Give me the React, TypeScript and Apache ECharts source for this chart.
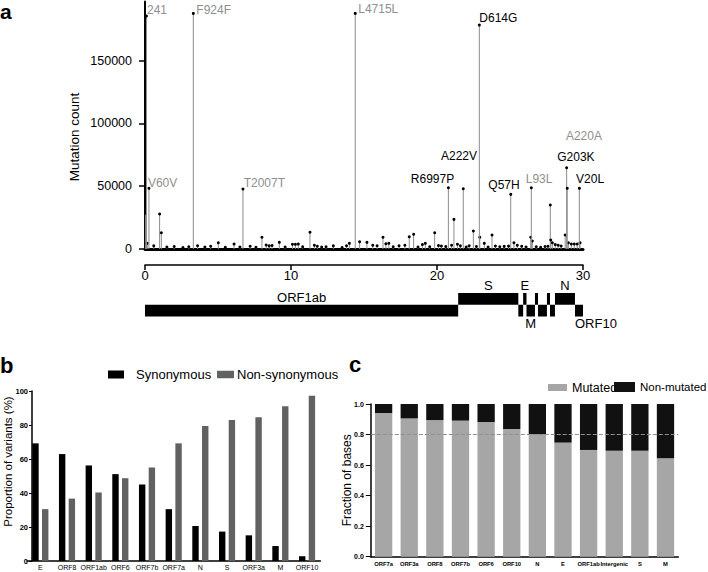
import React, { useEffect, useRef } from 'react';
import * as echarts from 'echarts';

const FONT = '"Liberation Sans", Arial, Helvetica, sans-serif';

// ---------- Panel a: mutation counts along the genome (kb) ----------
const peakNames = ['241', 'V60V', 'F924F', 'T2007T', 'L4715L', 'R6997P', 'A222V', 'D614G', 'Q57H', 'L93L', 'G203K', 'A220A', 'V20L'];
const peakPositions = [0.1, 0.27, 3.31, 6.71, 14.4, 20.78, 21.8, 22.9, 25.05, 26.46, 28.88, 28.92, 29.75];
const peakCounts = [185500, 48300, 187600, 47800, 187600, 48800, 48000, 178300, 43500, 48800, 64700, 48300, 48300];
const peakSynonymous = [true, true, true, true, true, false, false, false, false, true, false, true, false];

const minorPositions = [
  0.03, 0.15, 0.6, 1.0, 1.12, 1.5, 2.0, 2.6, 3.0, 3.6, 4.1, 4.5, 5.02, 5.5, 6.1, 6.5, 7.2, 7.6, 8.01, 8.3,
  8.5, 8.7, 9.2, 9.6, 10.1, 10.3, 10.5, 10.8, 11.3, 11.6, 11.8, 12.1, 12.4, 12.9, 13.5, 13.8, 14.0, 14.7, 15.2, 15.6,
  15.9, 16.3, 16.5, 16.7, 17.0, 17.4, 17.8, 18.1, 18.4, 18.7, 19.0, 19.2, 19.5, 19.84, 20.1, 20.3, 20.6, 21.0, 21.16, 21.4,
  21.6, 22.0, 22.2, 22.49, 22.7, 22.93, 23.24, 23.5, 23.77, 24.0, 24.3, 24.6, 24.9, 25.27, 25.5, 25.8, 26.1, 26.42, 26.53, 26.8,
  27.1, 27.4, 27.6, 27.76, 27.79, 27.9, 28.1, 28.3, 28.5, 28.78, 29.0, 29.2, 29.4, 29.6, 29.8,
];
const minorCounts = [
  28500, 4500, 2500, 27900, 13000, 1500, 2000, 1200, 1800, 2600, 1500, 2200, 5000, 1300, 4000, 1500, 2200, 1400, 9300, 3200,
  2500, 2800, 5300, 1600, 3800, 3700, 3900, 1700, 13300, 3000, 2200, 1500, 1800, 2500, 1200, 2600, 4500, 5800, 5300, 3000,
  2600, 9300, 4200, 4500, 1800, 2600, 3000, 9800, 11700, 1600, 3500, 4500, 1800, 13000, 2700, 2400, 1900, 3000, 23600, 3800,
  2500, 1500, 2600, 14300, 2000, 9300, 4500, 1500, 11100, 2400, 1800, 2100, 2300, 5000, 3000, 2200, 1600, 9300, 6400, 1800,
  1300, 2000, 2200, 35000, 7200, 5000, 3500, 3000, 2400, 11100, 5000, 4000, 4000, 4000, 5000,
];

const axisTicksKb = [0, 10, 20, 30];
const countTicks = [0, 50000, 100000, 150000];

// Gene map
const geneNames = ['ORF1ab', 'S', 'ORF3a', 'E', 'M', 'ORF6', 'ORF7a', 'ORF7b', 'ORF8', 'N', 'ORF10'];
const geneStarts = [0, 21.45, 25.57, 25.9, 26.13, 26.71, 26.92, 27.53, 27.74, 28.08, 29.45];
const geneEnds = [21.45, 25.57, 25.9, 26.13, 26.71, 26.92, 27.53, 27.74, 28.08, 29.45, 30];
const geneRows = [0, 1, 0, 1, 0, 1, 0, 1, 0, 1, 0];
const geneLabelSides = ['top', 'top', '', 'top', 'bottom', '', '', '', '', 'top', 'bottomLeft'];

// ---------- Panel b ----------
const variantGenes = ['E', 'ORF8', 'ORF1ab', 'ORF6', 'ORF7b', 'ORF7a', 'N', 'S', 'ORF3a', 'M', 'ORF10'];
const synonymousPct = [69.2, 62.9, 56.2, 51.1, 45, 30.5, 20.6, 17.3, 15.1, 8.8, 2.8];
const nonSynonymousPct = [30.5, 36.7, 40.3, 48.7, 55, 69.2, 79.4, 82.9, 84.5, 91, 97.2];

// ---------- Panel c ----------
const baseGenes = ['ORF7a', 'ORF3a', 'ORF8', 'ORF7b', 'ORF6', 'ORF10', 'N', 'E', 'ORF1ab', 'Intergenic', 'S', 'M'];
const mutatedFrac = [0.941, 0.906, 0.895, 0.891, 0.882, 0.836, 0.803, 0.747, 0.699, 0.694, 0.694, 0.644];
const nonMutatedFrac = [0.059, 0.094, 0.105, 0.109, 0.118, 0.164, 0.197, 0.253, 0.301, 0.306, 0.306, 0.356];
const thresholdFrac = 0.8;

// label placement (pixel offsets from the point, left-aligned text)
const labelOffsets: Record<string, [number, number]> = {
  '241': [0.5, -6], V60V: [-1, -5], F924F: [3, -3.5], T2007T: [0.7, -5.5], L4715L: [3, -4],
  R6997P: [-37.6, -9.2], A222V: [-22.3, -32.4], D614G: [0, -6.7], Q57H: [-22.4, -9.3],
  L93L: [-5.6, -9.2], G203K: [-9.4, -10.4], A220A: [-1.3, -52.5], V20L: [-3.3, -9.8],
};

export default function App() {
  const ref = useRef<HTMLDivElement>(null);
  useEffect(() => {
    if (!ref.current) return;
    const chart = echarts.init(ref.current, undefined, { renderer: 'svg' });

    const allPoints = [
      ...minorPositions.map((p, i) => [p, minorCounts[i]]),
      ...peakPositions.map((p, i) => [p, peakCounts[i]]),
    ];
    const peakData = peakPositions.map((p, i) => [p, peakCounts[i]]);
    const geneData = geneNames.map((_, i) => [geneStarts[i], geneEnds[i], geneRows[i]]);

    const option: any = {
      animation: false,
      backgroundColor: '#fff',
      textStyle: { fontFamily: FONT },
      grid: [
        { left: 145, top: 1.6, width: 438, height: 247.4 },
        { left: 145, top: 293, width: 438, height: 23.5 },
        { left: 27, top: 391, width: 293.4, height: 170 },
        { left: 370.8, top: 404, width: 307.5, height: 152.7 },
      ],
      legend: [
        { data: ['Synonymous'], left: 108, top: 368, padding: 0, itemWidth: 16, itemHeight: 8, icon: 'rect', selectedMode: false,
          textStyle: { fontSize: 13, color: '#000', fontFamily: FONT, padding: [0, 0, 0, 7] } },
        { data: ['Non-synonymous'], left: 217, top: 368, padding: 0, itemWidth: 17, itemHeight: 7.5, icon: 'rect', selectedMode: false,
          textStyle: { fontSize: 13, color: '#000', fontFamily: FONT, padding: [0, 0, 0, -2] } },
        { data: ['Mutated'], left: 548, top: 381, padding: 0, itemWidth: 19, itemHeight: 7, icon: 'rect', selectedMode: false,
          textStyle: { fontSize: 12.5, color: '#000', fontFamily: FONT } },
        { data: ['Non-mutated'], left: 614, top: 381, padding: 0, itemWidth: 21, itemHeight: 10, icon: 'rect', selectedMode: false,
          textStyle: { fontSize: 11.5, color: '#000', fontFamily: FONT } },
      ],
      xAxis: [
        { type: 'value', gridIndex: 0, min: 0, max: 30, axisLine: { lineStyle: { color: '#000', width: 3 } },
          axisTick: { show: false }, axisLabel: { show: false }, splitLine: { show: false } },
        { type: 'value', gridIndex: 0, min: 0, max: 30, interval: 10, position: 'bottom', offset: 16,
          axisLine: { lineStyle: { color: '#000', width: 1.5 } },
          axisTick: { length: 5, lineStyle: { color: '#000', width: 1.5 }, customValues: axisTicksKb },
          axisLabel: { fontSize: 13, color: '#000', margin: 4, fontFamily: FONT, customValues: axisTicksKb },
          splitLine: { show: false } },
        { type: 'value', gridIndex: 1, min: 0, max: 30, show: false },
        { type: 'category', gridIndex: 2, data: variantGenes,
          axisLine: { lineStyle: { color: '#000', width: 1.5 } },
          axisTick: { alignWithLabel: true, length: 2, lineStyle: { color: '#000' } },
          axisLabel: { fontSize: 7, color: '#000', margin: 3, interval: 0, fontFamily: FONT } },
        { type: 'category', gridIndex: 3, data: baseGenes,
          axisLine: { lineStyle: { color: '#000', width: 1.5 } },
          axisTick: { show: false },
          axisLabel: { fontSize: 5.8, color: '#000', margin: 4, interval: 0, fontWeight: 'bold', fontFamily: FONT } },
      ],
      yAxis: [
        { type: 'value', gridIndex: 0, min: 0, max: 197000, interval: 50000,
          axisLine: { show: true, lineStyle: { color: '#000', width: 2 } },
          axisTick: { show: true, length: 6, lineStyle: { color: '#000', width: 1.5 }, customValues: countTicks },
          axisLabel: { fontSize: 12.5, color: '#000', margin: 13, fontFamily: FONT, customValues: countTicks,
            formatter: (v: number) => String(v) },
          splitLine: { show: false } },
        { type: 'value', gridIndex: 1, min: 0, max: 2, show: false },
        { type: 'value', gridIndex: 2, min: 0, max: 100, interval: 20, offset: -5,
          axisLine: { show: true, lineStyle: { color: '#000', width: 1.5 } },
          axisTick: { show: true, length: 3, lineStyle: { color: '#000' } },
          axisLabel: { fontSize: 7.5, color: '#000', margin: 4, fontWeight: 'bold', fontFamily: FONT },
          splitLine: { show: false } },
        { type: 'value', gridIndex: 3, min: 0, max: 1, interval: 0.2,
          axisLine: { show: true, lineStyle: { color: '#000', width: 1.5 } },
          axisTick: { show: true, length: 5, lineStyle: { color: '#000' } },
          axisLabel: { fontSize: 7, color: '#000', margin: 7, fontWeight: 'bold', fontFamily: FONT,
            formatter: (v: number) => v.toFixed(1) },
          splitLine: { show: false } },
      ],
      series: [
        {
          type: 'custom', name: 'mutations', xAxisIndex: 0, yAxisIndex: 0, data: allPoints, z: 3,
          renderItem: (params: any, api: any) => {
            const x = api.value(0), y = api.value(1);
            const top = api.coord([x, y]);
            const base = api.coord([x, 0]);
            return {
              type: 'group',
              children: [
                { type: 'line', shape: { x1: top[0], y1: base[1], x2: top[0], y2: top[1] }, style: { stroke: '#8c8c8c', lineWidth: 1 } },
                { type: 'circle', shape: { cx: top[0], cy: top[1], r: 1.5 }, style: { fill: '#000' } },
              ],
            };
          },
        },
        {
          type: 'custom', name: 'labels', xAxisIndex: 0, yAxisIndex: 0, data: peakData, z: 4, clip: false,
          renderItem: (params: any, api: any) => {
            const i = params.dataIndex;
            const pt = api.coord([api.value(0), api.value(1)]);
            const off = labelOffsets[peakNames[i]] || [2, -6];
            return {
              type: 'text', x: pt[0] + off[0], y: pt[1] + off[1],
              style: { text: peakNames[i], fill: peakSynonymous[i] ? '#8f8f8f' : '#000', fontSize: 12, fontFamily: FONT,
                align: 'left', verticalAlign: 'middle' },
            };
          },
        },
        {
          type: 'custom', name: 'genes', xAxisIndex: 2, yAxisIndex: 1, data: geneData, clip: false,
          renderItem: (params: any, api: any) => {
            const i = params.dataIndex;
            const start = api.value(0), end = api.value(1), row = api.value(2);
            const p0 = api.coord([start, row + 1]);
            const p1 = api.coord([end, row]);
            const children: any[] = [
              { type: 'rect', shape: { x: p0[0], y: p0[1], width: p1[0] - p0[0], height: p1[1] - p0[1] }, style: { fill: '#000' } },
            ];
            const side = geneLabelSides[i];
            if (side) {
              let tx = (p0[0] + p1[0]) / 2;
              let ty = p0[1] - 7.5;
              let align = 'center';
              if (side !== 'top') {
                ty = p1[1] + 7;
                if (side === 'bottomLeft') { tx = p0[0]; align = 'left'; }
              }
              children.push({ type: 'text', x: tx, y: ty, style: { text: geneNames[i], fill: '#000', fontSize: 13, fontFamily: FONT, align, verticalAlign: 'middle' } });
            }
            return { type: 'group', children };
          },
        },
        { type: 'bar', name: 'Synonymous', xAxisIndex: 3, yAxisIndex: 2, data: synonymousPct, barWidth: 6.4, barGap: '52%',
          itemStyle: { color: '#000' } },
        { type: 'bar', name: 'Non-synonymous', xAxisIndex: 3, yAxisIndex: 2, data: nonSynonymousPct, barWidth: 6.4,
          itemStyle: { color: '#616161' } },
        { type: 'bar', name: 'Mutated', xAxisIndex: 4, yAxisIndex: 3, stack: 'c', data: mutatedFrac, barWidth: 17.3,
          itemStyle: { color: '#a6a6a6' },
          markLine: { silent: true, symbol: 'none', label: { show: false },
            lineStyle: { color: '#8f8f8f', type: 'dashed', width: 1 }, data: [{ yAxis: thresholdFrac }] } },
        { type: 'bar', name: 'Non-mutated', xAxisIndex: 4, yAxisIndex: 3, stack: 'c', data: nonMutatedFrac, barWidth: 17.3,
          itemStyle: { color: '#111' } },
      ],
      graphic: [
        { type: 'text', x: 0, y: 11, style: { text: 'a', fontSize: 21, fontWeight: 'bold', fontFamily: FONT, fill: '#000', verticalAlign: 'middle' } },
        { type: 'text', x: 0, y: 365, style: { text: 'b', fontSize: 22, fontWeight: 'bold', fontFamily: FONT, fill: '#000', verticalAlign: 'middle' } },
        { type: 'text', x: 349, y: 364, style: { text: 'c', fontSize: 22, fontWeight: 'bold', fontFamily: FONT, fill: '#000', verticalAlign: 'middle' } },
        { type: 'text', x: 74, y: 137, rotation: Math.PI / 2,
          style: { text: 'Mutation count', fontSize: 13.5, fontFamily: FONT, fill: '#000', align: 'center', verticalAlign: 'middle' } },
        { type: 'text', x: 8, y: 461.5, rotation: Math.PI / 2,
          style: { text: 'Proportion of variants (%)', fontSize: 11.5, fontFamily: FONT, fill: '#000', align: 'center', verticalAlign: 'middle' } },
        { type: 'text', x: 346.7, y: 480.3, rotation: Math.PI / 2,
          style: { text: 'Fraction of bases', fontSize: 12, fontFamily: FONT, fill: '#000', align: 'center', verticalAlign: 'middle' } },
      ],
    };
    chart.setOption(option);
    return () => chart.dispose();
  }, []);
  return <div ref={ref} style={{ position: 'absolute', left: 0, top: 0, width: 708, height: 572 }} />;
}
